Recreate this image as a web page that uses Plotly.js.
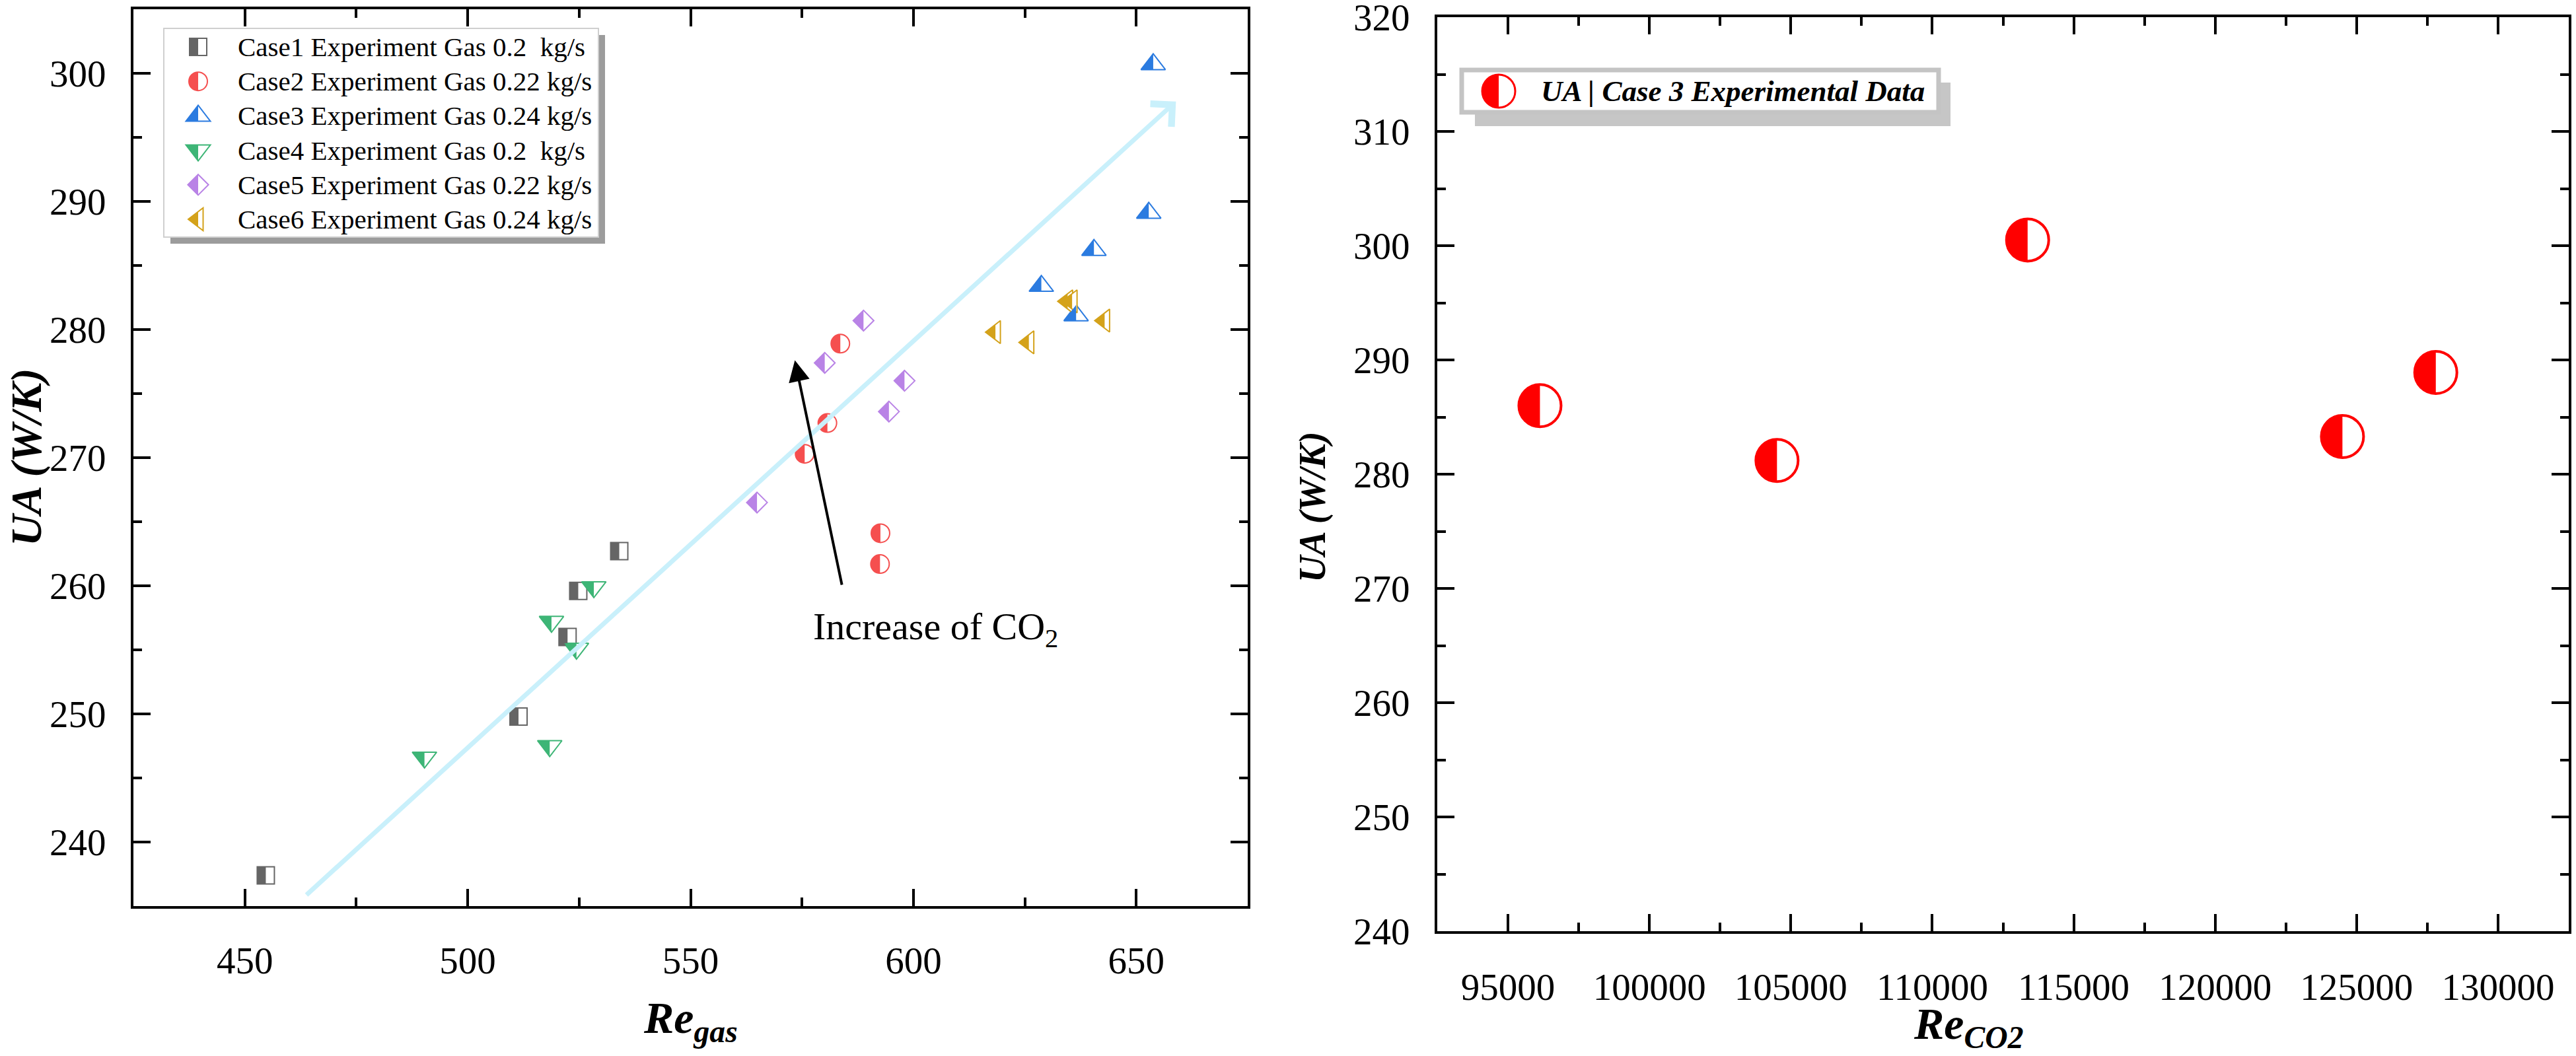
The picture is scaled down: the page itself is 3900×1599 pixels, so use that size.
<!DOCTYPE html>
<html>
<head>
<meta charset="utf-8">
<script src="https://cdn.plot.ly/plotly-3.0.1.min.js"></script>
<style>
  html, body { margin: 0; padding: 0; background: #fff; }
  #chart { width: 3900px; height: 1599px; }
</style>
</head>
<body>
<div id="chart"></div>
<script>
// left panel: UA vs Re_gas for the six experiment cases
const caseNames = [
  "Case1 Experiment Gas 0.2\u00a0 kg/s",
  "Case2 Experiment Gas 0.22 kg/s",
  "Case3 Experiment Gas 0.24 kg/s",
  "Case4 Experiment Gas 0.2\u00a0 kg/s",
  "Case5 Experiment Gas 0.22 kg/s",
  "Case6 Experiment Gas 0.24 kg/s",
];
const case1Re = [454.7, 511.4, 522.4, 524.8, 534.0];
const case1UA = [237.4, 249.8, 256.0, 259.6, 262.7];
const case2Re = [575.6, 580.7, 583.6, 592.6, 592.5];
const case2UA = [270.3, 272.7, 278.9, 264.1, 261.7];
const case3Re = [653.8, 652.8, 640.5, 628.7, 636.5];
const case3UA = [300.7, 289.1, 286.2, 283.4, 281.1];
const case4Re = [490.3, 518.4, 518.8, 524.4, 528.3];
const case4UA = [246.6, 247.5, 257.2, 255.1, 259.9];
const case5Re = [564.9, 580.1, 588.8, 594.5, 598.0];
const case5UA = [266.5, 277.4, 280.7, 273.6, 276.0];
const case6Re = [618.4, 625.9, 634.6, 635.6, 642.9];
const case6UA = [279.8, 279.0, 282.2, 282.2, 280.7];

// right panel: case 3 against the CO2 Reynolds number
const reCO2 = [96130, 104510, 113370, 124500, 127800];
const uaCase3 = [286.0, 281.2, 300.5, 283.3, 288.9];
const rightLegendText = "UA | Case 3 Experimental Data";

// arrows on the left panel: [tailRe, tailUA, headRe, headUA]
const trendArrow = [463.6, 235.8, 658.9, 297.8];
const co2Arrow = [584.0, 260.0, 573.4, 277.6];
const co2Label = "Increase of CO<sub>2</sub>";

const W = 3900;
const H = 1599;
const FONT = "Liberation Serif, Times New Roman, serif";

const caseStyles = [
  { color: "#656565", symbol: "square", size: 26 },
  { color: "#F54F4F", symbol: "circle", size: 28 },
  { color: "#2B7BE0", symbol: "triangle-up", size: 32 },
  { color: "#3DB576", symbol: "triangle-down", size: 32 },
  { color: "#B983E6", symbol: "diamond", size: 24 },
  { color: "#D4A21A", symbol: "triangle-left", size: 30 },
];
const caseData = [
  [case1Re, case1UA],
  [case2Re, case2UA],
  [case3Re, case3UA],
  [case4Re, case4UA],
  [case5Re, case5UA],
  [case6Re, case6UA],
];

// pixel -> paper helpers
const px = (v) => v / W;
const py = (v) => 1 - v / H;

function poly(pts) {
  return "M" + pts.map((p) => p[0].toFixed(2) + "," + p[1].toFixed(2)).join("L") + "Z";
}

// same geometry as plotly's own marker symbols (y up), full or left half only
function symbolPath(symbol, r, half) {
  const k = 0.5523 * r;
  const rt = (2 * r) / Math.sqrt(3);
  const rd = 1.3 * r;
  const f = (v) => v.toFixed(2);
  switch (symbol) {
    case "square":
      return half
        ? poly([[-r, -r], [0, -r], [0, r], [-r, r]])
        : poly([[-r, -r], [r, -r], [r, r], [-r, r]]);
    case "circle":
      if (half) {
        return `M0,${f(r)} C${f(-k)},${f(r)} ${f(-r)},${f(k)} ${f(-r)},0 C${f(-r)},${f(-k)} ${f(-k)},${f(-r)} 0,${f(-r)} Z`;
      }
      return `M${f(r)},0 C${f(r)},${f(k)} ${f(k)},${f(r)} 0,${f(r)} C${f(-k)},${f(r)} ${f(-r)},${f(k)} ${f(-r)},0 C${f(-r)},${f(-k)} ${f(-k)},${f(-r)} 0,${f(-r)} C${f(k)},${f(-r)} ${f(r)},${f(-k)} ${f(r)},0 Z`;
    case "diamond":
      return half
        ? poly([[0, rd], [-rd, 0], [0, -rd]])
        : poly([[rd, 0], [0, rd], [-rd, 0], [0, -rd]]);
    case "triangle-up":
      return half
        ? poly([[0, r], [-rt, -r / 2], [0, -r / 2]])
        : poly([[-rt, -r / 2], [rt, -r / 2], [0, r]]);
    case "triangle-down":
      return half
        ? poly([[0, -r], [-rt, r / 2], [0, r / 2]])
        : poly([[-rt, r / 2], [rt, r / 2], [0, -r]]);
    case "triangle-left":
      return half
        ? poly([[-r, 0], [0, (2 * rt) / 3], [0, (-2 * rt) / 3]])
        : poly([[r / 2, rt], [r / 2, -rt], [-r, 0]]);
  }
  return "";
}

function halfShape(xref, yref, x, y, style) {
  return {
    type: "path",
    xref: xref,
    yref: yref,
    xsizemode: "pixel",
    ysizemode: "pixel",
    xanchor: x,
    yanchor: y,
    path: symbolPath(style.symbol, style.size / 2, true),
    fillcolor: style.color,
    line: { width: 0 },
    layer: "above",
  };
}

const traces = [];
const shapes = [];
const annotations = [];

// data traces: white filled markers with coloured outline, the left half filled by a shape
caseData.forEach(([xs, ys], i) => {
  const st = caseStyles[i];
  traces.push({
    type: "scatter",
    mode: "markers",
    name: caseNames[i],
    x: xs,
    y: ys,
    xaxis: "x",
    yaxis: "y",
    showlegend: false,
    hoverinfo: "skip",
    marker: {
      symbol: st.symbol,
      size: st.size,
      color: "#ffffff",
      line: { color: st.color, width: 2 },
    },
  });
  xs.forEach((x, j) => shapes.push(halfShape("x", "y", x, ys[j], st)));
});

const rightStyle = { color: "#FF0000", symbol: "circle", size: 64 };
traces.push({
  type: "scatter",
  mode: "markers",
  name: rightLegendText,
  x: reCO2,
  y: uaCase3,
  xaxis: "x2",
  yaxis: "y2",
  showlegend: false,
  hoverinfo: "skip",
  marker: {
    symbol: "circle",
    size: rightStyle.size,
    color: "#ffffff",
    line: { color: rightStyle.color, width: 4 },
  },
});
reCO2.forEach((x, j) => shapes.push(halfShape("x2", "y2", x, uaCase3[j], rightStyle)));

// left legend box with drop shadow
shapes.push({
  type: "rect", xref: "paper", yref: "paper",
  x0: px(258), x1: px(916), y0: py(369), y1: py(53),
  fillcolor: "#9c9c9c", line: { width: 0 }, layer: "above",
});
shapes.push({
  type: "rect", xref: "paper", yref: "paper",
  x0: px(248), x1: px(906), y0: py(359), y1: py(43),
  fillcolor: "#ffffff", line: { color: "#cfcfcf", width: 2 }, layer: "above",
});
caseNames.forEach((name, i) => {
  const st = caseStyles[i];
  const cy = 71 + 52.2 * i;
  shapes.push({
    type: "path", xref: "paper", yref: "paper",
    xsizemode: "pixel", ysizemode: "pixel",
    xanchor: px(300), yanchor: py(cy),
    path: symbolPath(st.symbol, st.size / 2, false),
    fillcolor: "#ffffff", line: { color: st.color, width: 2 }, layer: "above",
  });
  shapes.push(halfShape("paper", "paper", px(300), py(cy), st));
  annotations.push({
    xref: "paper", yref: "paper", x: px(358), y: py(cy),
    xanchor: "left", yanchor: "middle", showarrow: false,
    text: name, font: { family: FONT, size: 41, color: "#000" },
  });
});

// right legend box
shapes.push({
  type: "rect", xref: "paper", yref: "paper",
  x0: px(2233), x1: px(2953), y0: py(191), y1: py(125),
  fillcolor: "#c6c6c6", line: { width: 0 }, layer: "above",
});
shapes.push({
  type: "rect", xref: "paper", yref: "paper",
  x0: px(2213), x1: px(2935), y0: py(170), y1: py(106),
  fillcolor: "#ffffff", line: { color: "#c4c4c4", width: 7 }, layer: "above",
});
const legCircle = { color: "#FF0000", symbol: "circle", size: 50 };
shapes.push({
  type: "path", xref: "paper", yref: "paper",
  xsizemode: "pixel", ysizemode: "pixel",
  xanchor: px(2269), yanchor: py(138),
  path: symbolPath("circle", 25, false),
  fillcolor: "#ffffff", line: { color: "#FF0000", width: 3 }, layer: "above",
});
shapes.push(halfShape("paper", "paper", px(2269), py(138), legCircle));
annotations.push({
  xref: "paper", yref: "paper", x: px(2331), y: py(138),
  xanchor: "left", yanchor: "middle", showarrow: false,
  text: rightLegendText,
  font: { family: FONT, size: 45, color: "#000", weight: "bold", style: "italic" },
});

// arrows and label
annotations.push({
  xref: "x", yref: "y", axref: "x", ayref: "y",
  x: trendArrow[2], y: trendArrow[3], ax: trendArrow[0], ay: trendArrow[1],
  text: "", showarrow: true, arrowhead: 4, arrowsize: 1.3, arrowwidth: 7,
  arrowcolor: "#C9F0FB",
});
annotations.push({
  xref: "x", yref: "y", axref: "x", ayref: "y",
  x: co2Arrow[2], y: co2Arrow[3], ax: co2Arrow[0], ay: co2Arrow[1],
  text: "", showarrow: true, arrowhead: 2, arrowsize: 1.6, arrowwidth: 4,
  arrowcolor: "#000000",
});
annotations.push({
  xref: "x", yref: "y", x: 577.2, y: 256.6,
  xanchor: "left", yanchor: "middle", showarrow: false,
  text: co2Label, font: { family: FONT, size: 58, color: "#000" },
});

// axis titles
const titleFont = (size) => ({ family: FONT, size: size, color: "#000", weight: "bold", style: "italic" });
annotations.push({
  xref: "paper", yref: "paper", x: px(40), y: py(692), textangle: -90,
  xanchor: "center", yanchor: "middle", showarrow: false,
  text: "UA (W/K)", font: titleFont(66),
});
annotations.push({
  xref: "paper", yref: "paper", x: px(1987), y: py(768), textangle: -90,
  xanchor: "center", yanchor: "middle", showarrow: false,
  text: "UA (W/K)", font: titleFont(56),
});
annotations.push({
  xref: "paper", yref: "paper", x: px(1045), y: py(1545),
  xanchor: "center", yanchor: "middle", showarrow: false,
  text: "Re<sub>gas</sub>", font: titleFont(68),
});
annotations.push({
  xref: "paper", yref: "paper", x: px(2980), y: py(1554),
  xanchor: "center", yanchor: "middle", showarrow: false,
  text: "Re<sub>CO2</sub>", font: titleFont(68),
});

function axisStyle(extra) {
  return Object.assign({
    showline: true,
    linewidth: 4,
    linecolor: "#000",
    mirror: "ticks",
    ticks: "inside",
    ticklen: 26,
    tickwidth: 4,
    tickcolor: "#000",
    showgrid: false,
    zeroline: false,
    fixedrange: true,
    ticklabeloverflow: "allow",
    tickfont: { family: FONT, size: 57, color: "#000" },
  }, extra);
}

const layout = {
  width: W,
  height: H,
  margin: { t: 0, b: 0, l: 0, r: 0 },
  paper_bgcolor: "#ffffff",
  plot_bgcolor: "#ffffff",
  showlegend: false,
  xaxis: axisStyle({
    domain: [px(202), px(1889)],
    range: [425, 675],
    tick0: 450, dtick: 50,
    ticklabelstandoff: 30,
    minor: { ticks: "inside", ticklen: 13, tickwidth: 4, tickcolor: "#000", dtick: 25, tick0: 425 },
    anchor: "y",
  }),
  yaxis: axisStyle({
    domain: [py(1372), py(14)],
    range: [235, 305],
    tick0: 240, dtick: 10,
    ticklabelstandoff: 26,
    minor: { ticks: "inside", ticklen: 13, tickwidth: 4, tickcolor: "#000", dtick: 5, tick0: 235 },
    anchor: "x",
  }),
  xaxis2: axisStyle({
    domain: [px(2176), px(3889)],
    range: [92500, 132500],
    tick0: 95000, dtick: 5000,
    tickformat: "d",
    ticklabelstandoff: 32,
    minor: { ticks: "inside", ticklen: 13, tickwidth: 4, tickcolor: "#000", dtick: 2500, tick0: 92500 },
    anchor: "y2",
  }),
  yaxis2: axisStyle({
    domain: [py(1410), py(26)],
    range: [240, 320.002],
    tick0: 240, dtick: 10,
    ticklabelstandoff: 26,
    minor: { ticks: "inside", ticklen: 13, tickwidth: 4, tickcolor: "#000", dtick: 5, tick0: 240 },
    anchor: "x2",
  }),
  shapes: shapes,
  annotations: annotations,
};

Plotly.newPlot("chart", traces, layout, { staticPlot: true, displayModeBar: false });
</script>
</body>
</html>
